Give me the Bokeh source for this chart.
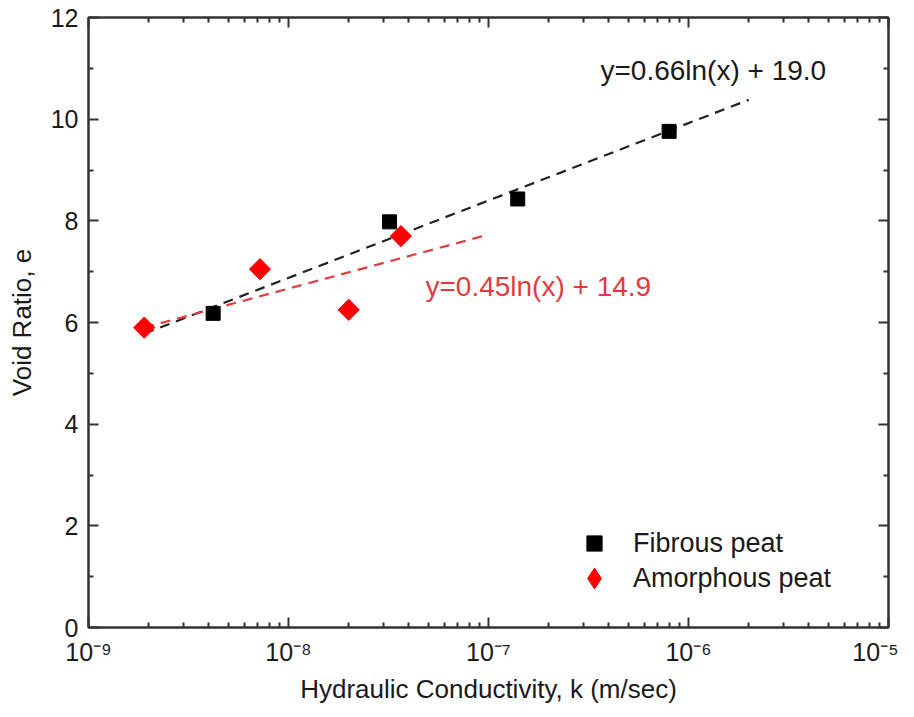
from bokeh.plotting import figure
from bokeh.models import (FixedTicker, LogAxis, LinearAxis, Legend, LegendItem,
                          Label, Range1d)
from bokeh.embed import file_html
from bokeh.resources import INLINE
import math

# ---- data ----
fibrous_k = [4.2e-9, 3.2e-8, 1.4e-7, 8.0e-7]
fibrous_e = [6.18, 7.98, 8.43, 9.76]
amorph_k = [1.9e-9, 7.2e-9, 2.0e-8, 3.65e-8]
amorph_e = [5.90, 7.05, 6.25, 7.70]

# fitted trend lines (straight on a log-x axis): end points
fit_fib_k = [1.9e-9, 2.0e-6]
fit_fib_e = [5.78, 10.38]
fit_amo_k = [1.9e-9, 1.0e-7]
fit_amo_e = [5.90, 7.73]

eq_fib = "y=0.66ln(x) + 19.0"
eq_amo = "y=0.45ln(x) + 14.9"

x_ticks = [1e-9, 1e-8, 1e-7, 1e-6, 1e-5]
x_tick_labels = ["10\u207b\u2079", "10\u207b\u2078", "10\u207b\u2077", "10\u207b\u2076", "10\u207b\u2075"]
y_ticks = [0, 2, 4, 6, 8, 10, 12]
y_minor = [1, 3, 5, 7, 9, 11]

FONT = "Liberation Sans"
RED = "#ff0000"
RED_LINE = "#e33b3b"
AX = "#333333"
TXT = "#1a1a1a"

minor = [m * 10.0 ** d for d in range(-9, -5) for m in range(2, 10)]

p = figure(x_axis_type="log",
           x_range=Range1d(1e-9, 1e-5), y_range=Range1d(0, 12),
           output_backend="svg", toolbar_location=None,
           frame_width=800, frame_height=610,
           min_border_left=88, min_border_right=10,
           min_border_top=17, min_border_bottom=74)
p.background_fill_color = "white"
p.border_fill_color = "white"
p.grid.visible = False
p.outline_line_color = AX
p.outline_line_width = 2

def style_axis(ax, labels=True):
    ax.axis_line_color = AX
    ax.axis_line_width = 2
    ax.major_tick_in = 10
    ax.major_tick_out = 0
    ax.minor_tick_in = 5
    ax.minor_tick_out = 0
    ax.major_tick_line_color = AX
    ax.minor_tick_line_color = AX
    ax.major_tick_line_width = 2
    ax.minor_tick_line_width = 2
    ax.major_label_text_font = FONT
    ax.major_label_text_font_size = "25px"
    ax.major_label_text_color = TXT
    ax.axis_label_text_font = FONT
    ax.axis_label_text_font_size = "26px"
    ax.axis_label_text_font_style = "normal"
    ax.axis_label_text_color = TXT
    if not labels:
        ax.major_label_text_font_size = "0px"
        ax.major_label_text_alpha = 0
        ax.major_label_standoff = 0

xt = FixedTicker(ticks=x_ticks, minor_ticks=minor)
yt = FixedTicker(ticks=y_ticks, minor_ticks=y_minor)

xa = p.xaxis[0]
xa.ticker = xt
xa.major_label_overrides = {t: l for t, l in zip(x_ticks, x_tick_labels)}
xa.axis_label = "Hydraulic Conductivity, k (m/sec)"
style_axis(xa)
xa.major_label_standoff = 10
xa.axis_label_standoff = 5

ya = p.yaxis[0]
ya.ticker = yt
ya.axis_label = "Void Ratio, e"
style_axis(ya)
ya.major_label_standoff = 10
ya.axis_label_standoff = 11

top = LogAxis(ticker=FixedTicker(ticks=x_ticks, minor_ticks=minor))
style_axis(top, labels=False)
p.add_layout(top, "above")
right = LinearAxis(ticker=FixedTicker(ticks=y_ticks, minor_ticks=y_minor))
style_axis(right, labels=False)
p.add_layout(right, "right")

p.line(fit_fib_k, fit_fib_e, line_color="#222222", line_width=2.2, line_dash="10 7")
p.line(fit_amo_k, fit_amo_e, line_color=RED_LINE, line_width=2.2, line_dash="10 7")

r_f = p.scatter(fibrous_k, fibrous_e, marker="square", size=14,
                fill_color="black", line_color="black")
# diamond renderer used as the legend key (hidden beneath the rotated squares;
# Bokeh legends ignore marker angle)
r_a_key = p.scatter(amorph_k, amorph_e, marker="diamond", size=19,
                    fill_color=RED, line_color=RED)
r_a = p.scatter(amorph_k, amorph_e, marker="square", size=15, angle=math.pi / 4,
                fill_color=RED, line_color=RED)

p.add_layout(Label(x=3.63e-7, y=10.96, text=eq_fib, text_font=FONT,
                   text_font_size="28px", text_color=TXT,
                   text_baseline="middle"))
p.add_layout(Label(x=4.84e-8, y=6.70, text=eq_amo, text_font=FONT,
                   text_font_size="28px", text_color=RED_LINE,
                   text_baseline="middle"))

def make_legend(label, rend, loc, glyph, standoff):
    lg = Legend(items=[LegendItem(label=label, renderers=[rend])], location=loc)
    lg.border_line_color = None
    lg.background_fill_alpha = 0
    lg.padding = 0
    lg.margin = 0
    lg.label_text_font = FONT
    lg.label_text_font_size = "27px"
    lg.label_text_color = TXT
    lg.glyph_width = glyph
    lg.glyph_height = glyph
    lg.label_height = glyph
    lg.label_standoff = standoff
    lg.spacing = 0
    return lg

p.add_layout(make_legend("Fibrous peat", r_f, (487, 65), 38, 20))
p.add_layout(make_legend("Amorphous peat", r_a_key, (480, 23), 52, 13))

open("out.html", "w").write(file_html(p, INLINE))
